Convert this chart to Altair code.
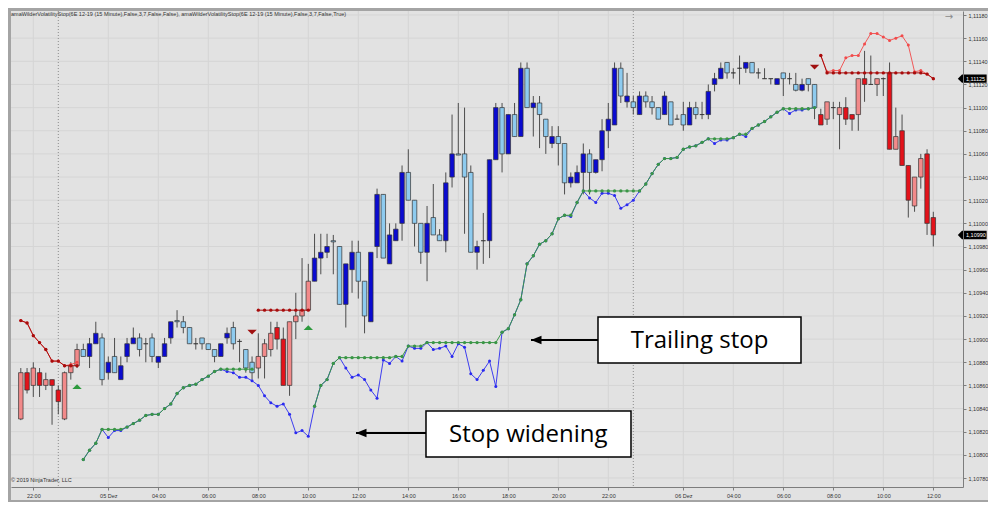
import altair as alt
import pandas as pd

# ---------------- data (EUR/USD 15 minute bars) ----------------
opens = [1.10831, 1.10871, 1.10860, 1.10871, 1.10860, 1.10865, 1.10856, 1.10831, 1.10871, 1.10877,
         1.10891, 1.10885, 1.10896, 1.10901, 1.10871, 1.10885, 1.10865, 1.10885, 1.10896, 1.10901,
         1.10896, 1.10901, 1.10880, 1.10885, 1.10901, 1.10916, 1.10915, 1.10910, 1.10896, 1.10901,
         1.10896, 1.10891, 1.10885, 1.10901, 1.10910, 1.10898, 1.10891, 1.10880, 1.10875, 1.10885,
         1.10891, 1.10910, 1.10900, 1.10860, 1.10915, 1.10920, 1.10925, 1.10950, 1.10970, 1.10975,
         1.10985, 1.10980, 1.10930, 1.10960, 1.10975, 1.10950, 1.10915, 1.10980, 1.11025, 1.10965,
         1.10985, 1.11000, 1.11044, 1.11020, 1.11000, 1.10975, 1.11005, 1.10990, 1.10985, 1.11040,
         1.11060, 1.11060, 1.11044, 1.10975, 1.10985, 1.10985, 1.11055, 1.11100, 1.11060, 1.11094,
         1.11075, 1.11134, 1.11100, 1.11104, 1.11090, 1.11069, 1.11075, 1.11069, 1.11035, 1.11035,
         1.11044, 1.11060, 1.11044, 1.11055, 1.11080, 1.11085, 1.11134, 1.11105, 1.11105, 1.11094,
         1.11110, 1.11105, 1.11100, 1.11094, 1.11105, 1.11090, 1.11094, 1.11085, 1.11100, 1.11094,
         1.11094, 1.11120, 1.11125, 1.11139, 1.11130, 1.11134, 1.11134, 1.11139, 1.11130, 1.11125,
         1.11125, 1.11120, 1.11130, 1.11125, 1.11120, 1.11115, 1.11125, 1.11120, 1.11094, 1.11090,
         1.11100, 1.11094, 1.11100, 1.11094, 1.11094, 1.11125, 1.11120, 1.11120, 1.11125, 1.11130,
         1.11064, 1.11080, 1.11050, 1.11015, 1.11040, 1.11060, 1.11005]
highs = [1.10875, 1.10875, 1.10880, 1.10875, 1.10871, 1.10865, 1.10860, 1.10872, 1.10880, 1.10896,
         1.10896, 1.10901, 1.10915, 1.10905, 1.10885, 1.10901, 1.10885, 1.10901, 1.10910, 1.10905,
         1.10901, 1.10905, 1.10885, 1.10901, 1.10915, 1.10925, 1.10920, 1.10910, 1.10901, 1.10901,
         1.10896, 1.10891, 1.10896, 1.10910, 1.10915, 1.10900, 1.10891, 1.10885, 1.10905, 1.10900,
         1.10915, 1.10915, 1.10910, 1.10915, 1.10940, 1.10970, 1.10965, 1.10991, 1.10991, 1.10991,
         1.10990, 1.10980, 1.10965, 1.10985, 1.10985, 1.10950, 1.10975, 1.11030, 1.11025, 1.11000,
         1.11000, 1.11050, 1.11064, 1.11020, 1.11000, 1.11015, 1.11034, 1.10995, 1.11044, 1.11094,
         1.11104, 1.11100, 1.11050, 1.10985, 1.11009, 1.11055, 1.11104, 1.11104, 1.11094, 1.11104,
         1.11139, 1.11139, 1.11110, 1.11110, 1.11090, 1.11084, 1.11084, 1.11069, 1.11044, 1.11050,
         1.11069, 1.11064, 1.11055, 1.11090, 1.11104, 1.11139, 1.11139, 1.11130, 1.11110, 1.11114,
         1.11114, 1.11110, 1.11100, 1.11114, 1.11105, 1.11094, 1.11105, 1.11105, 1.11105, 1.11105,
         1.11120, 1.11130, 1.11139, 1.11139, 1.11134, 1.11145, 1.11139, 1.11139, 1.11134, 1.11134,
         1.11125, 1.11125, 1.11130, 1.11130, 1.11130, 1.11125, 1.11125, 1.11120, 1.11099, 1.11105,
         1.11105, 1.11105, 1.11109, 1.11094, 1.11125, 1.11149, 1.11145, 1.11125, 1.11126, 1.11139,
         1.11100, 1.11094, 1.11050, 1.11040, 1.11060, 1.11064, 1.11010]
lows = [1.10830, 1.10853, 1.10850, 1.10850, 1.10856, 1.10826, 1.10835, 1.10830, 1.10865, 1.10875,
        1.10885, 1.10875, 1.10896, 1.10860, 1.10865, 1.10871, 1.10865, 1.10880, 1.10896, 1.10885,
        1.10880, 1.10880, 1.10875, 1.10885, 1.10896, 1.10910, 1.10905, 1.10896, 1.10891, 1.10891,
        1.10891, 1.10880, 1.10885, 1.10896, 1.10891, 1.10880, 1.10871, 1.10865, 1.10866, 1.10866,
        1.10885, 1.10891, 1.10860, 1.10851, 1.10900, 1.10915, 1.10925, 1.10950, 1.10956, 1.10970,
        1.10956, 1.10930, 1.10910, 1.10940, 1.10935, 1.10905, 1.10915, 1.10970, 1.10970, 1.10965,
        1.10985, 1.10985, 1.11020, 1.10980, 1.10965, 1.10950, 1.10990, 1.10985, 1.10975, 1.11031,
        1.11059, 1.10991, 1.10975, 1.10960, 1.10965, 1.10970, 1.11055, 1.11044, 1.11060, 1.11075,
        1.11075, 1.11100, 1.11075, 1.11065, 1.11060, 1.11065, 1.11050, 1.11025, 1.11031, 1.11035,
        1.11025, 1.11025, 1.11043, 1.11045, 1.11065, 1.11085, 1.11104, 1.11100, 1.11094, 1.11094,
        1.11100, 1.11094, 1.11090, 1.11094, 1.11085, 1.11090, 1.11080, 1.11085, 1.11090, 1.11090,
        1.11090, 1.11114, 1.11125, 1.11125, 1.11125, 1.11120, 1.11130, 1.11130, 1.11125, 1.11125,
        1.11120, 1.11120, 1.11110, 1.11120, 1.11114, 1.11114, 1.11114, 1.11090, 1.11085, 1.11085,
        1.11090, 1.11064, 1.11085, 1.11080, 1.11080, 1.11105, 1.11120, 1.11110, 1.11110, 1.11064,
        1.11064, 1.11050, 1.11005, 1.11010, 1.11030, 1.10990, 1.10980]
closes = [1.10871, 1.10856, 1.10875, 1.10860, 1.10865, 1.10860, 1.10846, 1.10871, 1.10877, 1.10891,
          1.10885, 1.10896, 1.10905, 1.10865, 1.10880, 1.10871, 1.10877, 1.10896, 1.10901, 1.10891,
          1.10896, 1.10885, 1.10885, 1.10896, 1.10915, 1.10915, 1.10910, 1.10896, 1.10896, 1.10896,
          1.10891, 1.10885, 1.10896, 1.10905, 1.10896, 1.10898, 1.10875, 1.10871, 1.10885, 1.10896,
          1.10905, 1.10900, 1.10860, 1.10915, 1.10920, 1.10925, 1.10950, 1.10970, 1.10975, 1.10980,
          1.10984, 1.10930, 1.10965, 1.10975, 1.10950, 1.10920, 1.10975, 1.11025, 1.10970, 1.10990,
          1.10995, 1.11044, 1.11020, 1.11000, 1.10975, 1.11000, 1.10990, 1.10985, 1.11035, 1.11060,
          1.11059, 1.11040, 1.10975, 1.10980, 1.10985, 1.11055, 1.11100, 1.11060, 1.11094, 1.11075,
          1.11134, 1.11100, 1.11104, 1.11094, 1.11075, 1.11075, 1.11069, 1.11035, 1.11040, 1.11044,
          1.11060, 1.11044, 1.11055, 1.11080, 1.11090, 1.11134, 1.11110, 1.11110, 1.11100, 1.11110,
          1.11105, 1.11100, 1.11090, 1.11110, 1.11085, 1.11090, 1.11085, 1.11100, 1.11094, 1.11094,
          1.11114, 1.11125, 1.11134, 1.11130, 1.11130, 1.11134, 1.11139, 1.11130, 1.11130, 1.11125,
          1.11125, 1.11125, 1.11125, 1.11125, 1.11115, 1.11120, 1.11120, 1.11100, 1.11085, 1.11105,
          1.11100, 1.11100, 1.11090, 1.11090, 1.11125, 1.11120, 1.11120, 1.11125, 1.11125, 1.11064,
          1.11075, 1.11050, 1.11020, 1.11040, 1.11056, 1.11000, 1.10990]

# trend state of the trailing-stop indicator (S = short / red bars, L = long / blue bars)
trend_runs = [("S", 10), ("L", 28), ("S", 9), ("L", 81), ("S", 19)]
# trend state of the stop-widening indicator
wide_runs = [("S", 10), ("L", 118), ("S", 19)]

trail_stop = [1.10916, 1.10914, 1.10903, 1.10897, 1.10891, 1.10881, 1.10881, 1.10877, 1.10877, 1.10877,
              1.10796, 1.10804, 1.10810, 1.10822, 1.10822, 1.10822, 1.10822, 1.10824, 1.10827, 1.10830,
              1.10834, 1.10835, 1.10835, 1.10840, 1.10844, 1.10853, 1.10858, 1.10860, 1.10861, 1.10865,
              1.10868, 1.10872, 1.10874, 1.10874, 1.10874, 1.10874, 1.10874, 1.10874,
              1.10925, 1.10925, 1.10925, 1.10925, 1.10925, 1.10925, 1.10925, 1.10925, 1.10925,
              1.10842, 1.10860, 1.10865, 1.10879, 1.10884, 1.10884, 1.10884, 1.10884, 1.10884, 1.10884,
              1.10884, 1.10884, 1.10884, 1.10885, 1.10885, 1.10894, 1.10894, 1.10894, 1.10897, 1.10897,
              1.10897, 1.10897, 1.10897, 1.10897, 1.10897, 1.10897, 1.10897, 1.10897, 1.10897, 1.10897,
              1.10906, 1.10909, 1.10921, 1.10934, 1.10965, 1.10972, 1.10982, 1.10985, 1.10991, 1.11004,
              1.11007, 1.11007, 1.11018, 1.11028, 1.11028, 1.11028, 1.11028, 1.11028, 1.11028, 1.11028,
              1.11028, 1.11028, 1.11028, 1.11034, 1.11043, 1.11051, 1.11056, 1.11056, 1.11057, 1.11064,
              1.11066, 1.11067, 1.11070, 1.11073, 1.11073, 1.11073, 1.11073, 1.11074, 1.11077, 1.11077,
              1.11082, 1.11085, 1.11088, 1.11092, 1.11096, 1.11099, 1.11099, 1.11099, 1.11099, 1.11099,
              1.11100,
              1.11145, 1.11130, 1.11130, 1.11130, 1.11130, 1.11130, 1.11130, 1.11130, 1.11130, 1.11130,
              1.11130, 1.11130, 1.11130, 1.11130, 1.11130, 1.11130, 1.11130, 1.11129, 1.11125]
wide_stop = [1.10916, 1.10914, 1.10903, 1.10897, 1.10891, 1.10881, 1.10881, 1.10877, 1.10878, 1.10880,
             1.10796, 1.10804, 1.10810, 1.10822, 1.10815, 1.10821, 1.10821, 1.10824, 1.10827, 1.10830,
             1.10834, 1.10835, 1.10835, 1.10840, 1.10844, 1.10853, 1.10858, 1.10860, 1.10861, 1.10865,
             1.10868, 1.10872, 1.10874, 1.10872, 1.10871, 1.10867, 1.10867, 1.10864, 1.10860, 1.10851,
             1.10845, 1.10842, 1.10844, 1.10835, 1.10819, 1.10821, 1.10816, 1.10842, 1.10860, 1.10865,
             1.10879, 1.10884, 1.10875, 1.10867, 1.10869, 1.10865, 1.10856, 1.10849, 1.10882, 1.10879,
             1.10885, 1.10881, 1.10894, 1.10892, 1.10892, 1.10897, 1.10891, 1.10892, 1.10894, 1.10885,
             1.10896, 1.10893, 1.10870, 1.10865, 1.10873, 1.10881, 1.10859, 1.10906, 1.10909, 1.10921,
             1.10934, 1.10965, 1.10972, 1.10982, 1.10985, 1.10991, 1.11004, 1.11007, 1.11006, 1.11018,
             1.11028, 1.11022, 1.11018, 1.11026, 1.11026, 1.11024, 1.11013, 1.11016, 1.11020, 1.11028,
             1.11034, 1.11043, 1.11051, 1.11056, 1.11056, 1.11057, 1.11064, 1.11066, 1.11067, 1.11070,
             1.11073, 1.11069, 1.11072, 1.11072, 1.11074, 1.11077, 1.11075, 1.11082, 1.11085, 1.11088,
             1.11092, 1.11096, 1.11099, 1.11095, 1.11098, 1.11098, 1.11099, 1.11100,
             1.11145, 1.11131, 1.11132, 1.11132, 1.11143, 1.11145, 1.11145, 1.11155, 1.11164, 1.11164,
             1.11161, 1.11158, 1.11160, 1.11162, 1.11154, 1.11131, 1.11132, 1.11129, 1.11125]

buy_bars = [9, 46]
buy_prices = [1.10859, 1.10910]
sell_bars = [37, 127]
sell_prices = [1.10906, 1.11135]

session_breaks = [6, 98]

x_tick_pos = [2, 14, 22, 30, 38, 46, 54, 62, 70, 78, 86, 94, 106, 114, 122, 130, 138, 146]
x_tick_labels = ["22:00", "05 Dez", "04:00", "06:00", "08:00", "10:00", "12:00", "14:00", "16:00",
                 "18:00", "20:00", "22:00", "06 Dez", "04:00", "06:00", "08:00", "10:00", "12:00"]
y_ticks = [1.1078, 1.1080, 1.1082, 1.1084, 1.1086, 1.1088, 1.1090, 1.1092, 1.1094, 1.1096, 1.1098,
           1.1100, 1.1102, 1.1104, 1.1106, 1.1108, 1.1110, 1.1112, 1.1114, 1.1116, 1.1118]

tag_prices = [1.11125, 1.10990]

notes = ["Trailing stop", "Stop widening"]
note_x0 = [92.35, 64.83]
note_x1 = [124.83, 97.63]
note_top = [1.109191, 1.108379]
note_bottom = [1.108794, 1.107981]
note_text_x = [108.6, 81.2]
note_text_y = [1.108984, 1.108171]
arrow_y = [1.108992, 1.108189]
arrow_tip = [81.63, 53.63]

header = ("amaWilderVolatilityStop(6E 12-19 (15 Minute),False,3,7,False,False), "
          "amaWilderVolatilityStop(6E 12-19 (15 Minute),False,3,7,False,True)")
copyright_txt = "\u00a9 2019 NinjaTrader, LLC"

# ---------------- assemble ----------------
n = len(opens)
assert len(highs) == n and len(lows) == n and len(closes) == n
assert len(trail_stop) == n and len(wide_stop) == n, (len(trail_stop), len(wide_stop))


def expand(runs):
    out = []
    for s, k in runs:
        out += [s] * k
    return out


def seg_ids(tr):
    ids, s = [], 0
    for k, t in enumerate(tr):
        if k > 0 and t != tr[k - 1]:
            s += 1
        ids.append(s)
    return ids


trend = expand(trend_runs)
wide_trend = expand(wide_runs)
assert len(trend) == n and len(wide_trend) == n

DARK_BLUE, LIGHT_BLUE = "#0b0bd0", "#8ecbef"
LIGHT_RED, DARK_RED = "#f28a8a", "#e3121a"


def body_color(t, o, c):
    up = c > o
    if t == "L":
        return DARK_BLUE if up else LIGHT_BLUE
    return LIGHT_RED if up else DARK_RED


idx = list(range(n))
bars = pd.DataFrame({"i": idx, "open": opens, "high": highs, "low": lows, "close": closes,
                     "fill": [body_color(t, o, c) for t, o, c in zip(trend, opens, closes)]})

trail = pd.DataFrame({"i": idx, "v": trail_stop, "seg": seg_ids(trend),
                      "col": ["#3a9646" if t == "L" else "#a80c0c" for t in trend]})
wide = pd.DataFrame({"i": idx, "v": wide_stop, "seg": seg_ids(wide_trend),
                     "col": ["#2a2af0" if t == "L" else "#f24a4a" for t in wide_trend]})

xs = alt.Scale(domain=[-1.568, 150.75], nice=False, zero=False, padding=0)
ys = alt.Scale(domain=[1.1077223, 1.1118346], nice=False, zero=False, padding=0)

lab_expr = ("[" + ",".join("'%s'" % s for s in x_tick_labels) + "][indexof(["
            + ",".join(str(v) for v in x_tick_pos) + "], datum.value)]")
x_axis = alt.Axis(values=x_tick_pos, labelExpr=lab_expr, title=None, grid=False, zindex=1,
                  domainColor="#7d7d7d", tickColor="#7d7d7d", tickSize=3,
                  labelFontSize=5.5, labelColor="#333333", labelFont="Liberation Sans",
                  labelPadding=3, labelFlush=False, labelOverlap=False)
y_axis = alt.Axis(orient="right", values=y_ticks, zindex=1,
                  labelExpr="replace(format(datum.value, '.5f'), '.', ',')", title=None, grid=False,
                  domainColor="#7d7d7d", tickColor="#7d7d7d", tickSize=3,
                  labelFontSize=5.5, labelColor="#333333", labelFont="Liberation Sans",
                  labelPadding=2, labelFlush=False, labelOverlap=False)


def X(f="i"):
    return alt.X(f"{f}:Q", scale=xs, axis=x_axis)


def Y(f):
    return alt.Y(f"{f}:Q", scale=ys, axis=y_axis)


one = pd.DataFrame({"a": [0]})

panel = alt.Chart(one).mark_rect(color="#e2e2e2").encode(
    x=alt.value(0), x2=alt.value(977), y=alt.value(0), y2=alt.value(489))

hgrid = alt.Chart(pd.DataFrame({"p": y_ticks})).mark_rule(color="#d5d5d5", strokeWidth=1).encode(y=Y("p"))
vgrid = alt.Chart(pd.DataFrame({"i": x_tick_pos})).mark_rule(color="#d5d5d5", strokeWidth=1).encode(x=X())
session = alt.Chart(pd.DataFrame({"i": session_breaks})).mark_rule(
    color="#8c8c8c", strokeDash=[1, 2], strokeWidth=1).encode(x=X())

wicks = alt.Chart(bars).mark_rule(color="#4d4d4d", strokeWidth=1).encode(
    x=X(), y=Y("low"), y2=alt.Y2("high"))
bodies = alt.Chart(bars).mark_bar(width=4.5, stroke="#333333", strokeWidth=0.7).encode(
    x=X(), y=Y("open"), y2=alt.Y2("close"), color=alt.Color("fill:N", scale=None, legend=None))

w_line = alt.Chart(wide).mark_line(strokeWidth=0.9).encode(
    x=X(), y=Y("v"), detail="seg:N", color=alt.Color("col:N", scale=None, legend=None))
w_pts = alt.Chart(wide).mark_circle(size=9, opacity=1).encode(
    x=X(), y=Y("v"), color=alt.Color("col:N", scale=None, legend=None))
t_line = alt.Chart(trail).mark_line(strokeWidth=1).encode(
    x=X(), y=Y("v"), detail="seg:N", color=alt.Color("col:N", scale=None, legend=None))
t_pts = alt.Chart(trail).mark_circle(size=11, opacity=1).encode(
    x=X(), y=Y("v"), color=alt.Color("col:N", scale=None, legend=None))

buys = alt.Chart(pd.DataFrame({"i": buy_bars, "p": buy_prices})).mark_point(
    shape="M-1,0.5L1,0.5L0,-0.5Z", size=88, filled=True, color="#2e9a3e", opacity=1, strokeWidth=0
).encode(x=X(), y=Y("p"))
sells = alt.Chart(pd.DataFrame({"i": sell_bars, "p": sell_prices})).mark_point(
    shape="M-1,-0.5L1,-0.5L0,0.5Z", size=88, filled=True, color="#a01010", opacity=1, strokeWidth=0
).encode(x=X(), y=Y("p"))

ndf = pd.DataFrame({"label": notes, "x0": note_x0, "x1": note_x1, "top": note_top, "bottom": note_bottom,
                    "tx": note_text_x, "ty": note_text_y, "ay": arrow_y, "tip": arrow_tip})
boxes = alt.Chart(ndf).mark_rect(fill="white", stroke="black", strokeWidth=1.5).encode(
    x=X("x0"), x2=alt.X2("x1"), y=Y("top"), y2=alt.Y2("bottom"))
box_text = alt.Chart(ndf).mark_text(font="Open Sans", fontSize=24, color="black").encode(
    x=X("tx"), y=Y("ty"), text="label:N")
arrows = alt.Chart(ndf).mark_rule(color="black", strokeWidth=2).encode(
    x=X("x0"), x2=alt.X2("tip"), y=Y("ay"))
heads = alt.Chart(ndf).mark_point(shape="M0,0L1.5,-0.6L1.5,0.6Z", size=196, filled=True,
                                  color="black", opacity=1, strokeWidth=0).encode(x=X("tip"), y=Y("ay"))

tdf = pd.DataFrame({"p": tag_prices, "t": [f"{p:.5f}".replace(".", ",") for p in tag_prices]})
tags = alt.Chart(tdf).mark_point(shape="M-0.3,0L0,-0.3L1.76,-0.3L1.76,0.3L0,0.3Z", size=784,
                                 filled=True, color="black", opacity=1, strokeWidth=0).encode(
    x=alt.value(951), y=Y("p"))
tag_text = alt.Chart(tdf).mark_text(align="left", fontSize=5.5, color="white",
                                    font="Liberation Sans").encode(x=alt.value(955), y=Y("p"), text="t:N")

head_txt = alt.Chart(one).mark_text(align="left", baseline="middle", fontSize=5.5, color="#333333",
                                    font="Liberation Sans", text=header).encode(
    x=alt.value(0), y=alt.value(3))
copy_txt = alt.Chart(one).mark_text(align="left", baseline="middle", fontSize=5.5, color="#333333",
                                    font="Liberation Sans", text=copyright_txt).encode(
    x=alt.value(0), y=alt.value(469))
icon = alt.Chart(one).mark_text(align="center", baseline="middle", fontSize=10, color="#8a8a8a",
                                font="DejaVu Sans", text="\u2192").encode(x=alt.value(938), y=alt.value(6))

chart = alt.layer(
    panel, hgrid, vgrid, session, wicks, bodies, w_line, w_pts, t_line, t_pts, buys, sells,
    boxes, box_text, arrows, heads, tags, tag_text, head_txt, copy_txt, icon
).properties(
    width=952, height=476, background="#a4a4a4",
    padding={"left": 2, "top": 2, "right": 0, "bottom": 2}
).configure_view(strokeWidth=0)

chart.save("out.html", embed_options={"renderer": "svg", "actions": False})
